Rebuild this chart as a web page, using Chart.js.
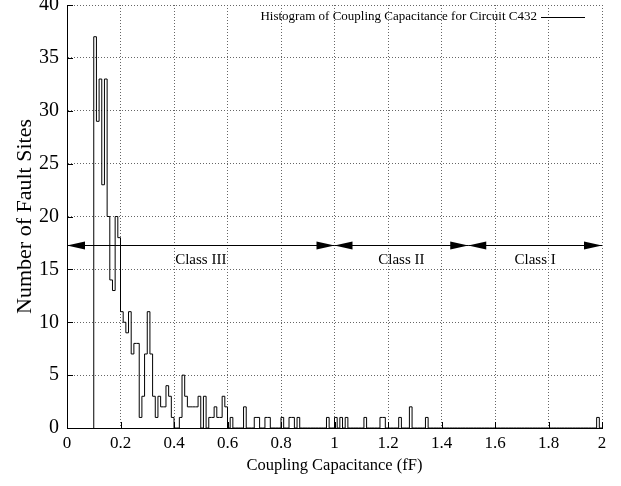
<!DOCTYPE html>
<html><head><meta charset="utf-8">
<script src="https://cdn.jsdelivr.net/npm/chart.js@4/dist/chart.umd.min.js"></script>
<style>html,body{margin:0;padding:0;background:#fff;}canvas{display:block;}</style>
</head><body>
<canvas id="c" width="621" height="486"></canvas>
<script>
// ---- data ----
const seriesLabel = 'Histogram of Coupling Capacitance for Circuit C432';
const binStart = 0.10;   // left edge of first bin (fF)
const binWidth = 0.01;   // bin width (fF)
const counts = [
  37,29,33,23,33,20,14,13,20,18,
  11,10,9,11,7,8,8,1,3,7,
  11,7,3,1,3,2,2,4,3,1,
  0,0,1,5,3,2,2,2,2,3,
  0,3,0,1,1,2,1,1,3,2,
  0,1,0,0,0,0,2,0,0,0,
  1,1,0,0,1,1,0,0,0,0,
  1,0,0,1,1,0,1,0,0,0,
  0,0,0,0,0,0,0,1,0,0,
  1,0,1,0,1,0,0,0,0,0,
  0,1,0,0,0,0,0,1,1,0,
  0,0,0,0,1,0,0,0,2,0,
  0,0,0,0,1,0,0,0,0,0,
  0,0,0,0,0,0,0,0,0,0,
  0,0,0,0,0,0,0,0,0,0,
  0,0,0,0,0,0,0,0,0,0,
  0,0,0,0,0,0,0,0,0,0,
  0,0,0,0,0,0,0,0,0,0,
  0,0,0,0,0,0,0,0,1,0
];
const xTicks = [0,0.2,0.4,0.6,0.8,1.0,1.2,1.4,1.6,1.8,2.0];
const yTicks = [0,5,10,15,20,25,30,35,40];
const classNames = ['Class III','Class II','Class I'];
const classFrom = [0, 1.0, 1.5];
const classTo = [1.0, 1.5, 2.0];
const classArrowLevel = 17.3;
const xTitle = 'Coupling Capacitance (fF)';
const yTitle = 'Number of Fault Sites';

// ---- build step points from bins ----
const points = [{x: binStart, y: 0}];
counts.forEach((c, i) => points.push({x: binStart + i * binWidth, y: c}));
points.push({x: binStart + counts.length * binWidth, y: 0});

const FONT = "'Liberation Serif', 'Times New Roman', serif";

const decorPlugin = {
  id: 'decor',
  afterDatasetsDraw(chart) {
    const ctx = chart.ctx;
    const xs = chart.scales.x, ys = chart.scales.y;
    const ca = chart.chartArea;
    ctx.save();
    // inward ticks
    ctx.strokeStyle = '#000'; ctx.lineWidth = 1;
    ctx.beginPath();
    yTicks.forEach(v => { const p = Math.round(ys.getPixelForValue(v)) + 0.5; ctx.moveTo(ca.left, p); ctx.lineTo(ca.left + 6, p); });
    xTicks.forEach(v => { const p = Math.round(xs.getPixelForValue(v)) + 0.5; ctx.moveTo(p, ca.bottom); ctx.lineTo(p, ca.bottom - 6); });
    ctx.stroke();
    // class arrows
    const ay = Math.round(ys.getPixelForValue(classArrowLevel)) + 0.5;
    const hl = 18, hw = 4;
    ctx.fillStyle = '#000';
    ctx.font = '15px ' + FONT;
    ctx.textAlign = 'center'; ctx.textBaseline = 'middle';
    classNames.forEach((name, i) => {
      const x1 = xs.getPixelForValue(classFrom[i]);
      const x2 = xs.getPixelForValue(classTo[i]);
      ctx.beginPath(); ctx.moveTo(x1, ay); ctx.lineTo(x2, ay); ctx.stroke();
      ctx.beginPath(); ctx.moveTo(x1, ay); ctx.lineTo(x1 + hl, ay - hw); ctx.lineTo(x1 + hl, ay + hw); ctx.closePath(); ctx.fill();
      ctx.beginPath(); ctx.moveTo(x2, ay); ctx.lineTo(x2 - hl, ay - hw); ctx.lineTo(x2 - hl, ay + hw); ctx.closePath(); ctx.fill();
      ctx.fillText(name, (x1 + x2) / 2, ay + 15);
    });
    // legend
    ctx.font = '13px ' + FONT;
    ctx.textAlign = 'right'; ctx.textBaseline = 'middle';
    const ly = ca.top + 12;
    ctx.fillText(chart.data.datasets[0].label, ca.right - 65, ly);
    ctx.beginPath(); ctx.moveTo(ca.right - 61, Math.round(ly) + 0.5); ctx.lineTo(ca.right - 17, Math.round(ly) + 0.5); ctx.stroke();
    ctx.restore();
  }
};

new Chart(document.getElementById('c'), {
  type: 'line',
  data: { datasets: [{
    label: seriesLabel,
    data: points,
    stepped: true,
    borderColor: '#000',
    borderWidth: 1,
    pointRadius: 0,
    fill: false,
    tension: 0
  }]},
  options: {
    responsive: false,
    animation: false,
    events: [],
    layout: { padding: { top: 5, right: 19, left: 0, bottom: 0 } },
    plugins: { legend: { display: false }, tooltip: { enabled: false } },
    scales: {
      x: {
        type: 'linear', min: 0, max: 2,
        afterBuildTicks: s => { s.ticks = xTicks.map(v => ({ value: v })); },
        afterFit: s => { s.height = 58; s.paddingLeft = 0; s.paddingRight = 0; },
        ticks: { color: '#000', font: { family: FONT, size: 17 }, padding: 5, maxRotation: 0,
                 callback: v => String(Number(v.toFixed(2))) },
        grid: { color: '#666', lineWidth: 1, drawTicks: false },
        border: { color: '#000', width: 1, dash: [1, 2] },
        title: { display: true, text: xTitle, color: '#000', font: { family: FONT, size: 16.5 }, padding: { top: 0, bottom: 10 } }
      },
      y: {
        type: 'linear', min: 0, max: 40,
        afterBuildTicks: s => { s.ticks = yTicks.map(v => ({ value: v })); },
        afterFit: s => { s.width = 67; s.paddingTop = 0; s.paddingBottom = 0; },
        ticks: { color: '#000', font: { family: FONT, size: 20 }, padding: 8 },
        grid: { color: '#666', lineWidth: 1, drawTicks: false },
        border: { color: '#000', width: 1, dash: [1, 2] },
        title: { display: true, text: yTitle, color: '#000', font: { family: FONT, size: 22 }, padding: { top: 12, bottom: 0 } }
      }
    }
  },
  plugins: [decorPlugin]
});
</script>
</body></html>
